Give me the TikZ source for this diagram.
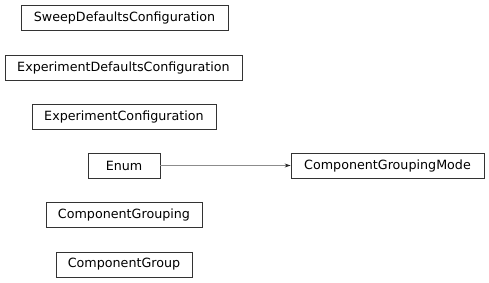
\documentclass[tikz,border=0pt]{standalone}
\usepackage{fontspec}
\setmainfont{DejaVu Sans}
\usetikzlibrary{arrows.meta}
\begin{document}
\begin{tikzpicture}[x=1pt,y=-1pt,
  cls/.style={draw=black!80,line width=0.8pt,inner sep=0pt,minimum height=25pt,font=\fontsize{12.7}{14}\selectfont,anchor=center},
  inh/.style={draw=black!45,line width=0.8pt,-{Stealth[length=6pt,width=4pt,black!85]}}]
\useasboundingbox (0,0) rectangle (489,283);
\node[cls,minimum width=207pt] (sweep) at (124.5,17.5) {SweepDefaultsConfiguration};
\node[cls,minimum width=237pt] (expdef) at (123.5,67.5) {ExperimentDefaultsConfiguration};
\node[cls,minimum width=184pt] (expconf) at (124,116.5) {ExperimentConfiguration};
\node[cls,minimum width=72pt] (enum) at (124,165.5) {Enum};
\node[cls,minimum width=193pt] (cgm) at (387.5,165.5) {ComponentGroupingMode};
\node[cls,minimum width=156pt] (cg) at (124,215) {ComponentGrouping};
\node[cls,minimum width=136pt] (cgroup) at (124,264.5) {ComponentGroup};
\draw[inh] (enum) -- (cgm);
\end{tikzpicture}
\end{document}
